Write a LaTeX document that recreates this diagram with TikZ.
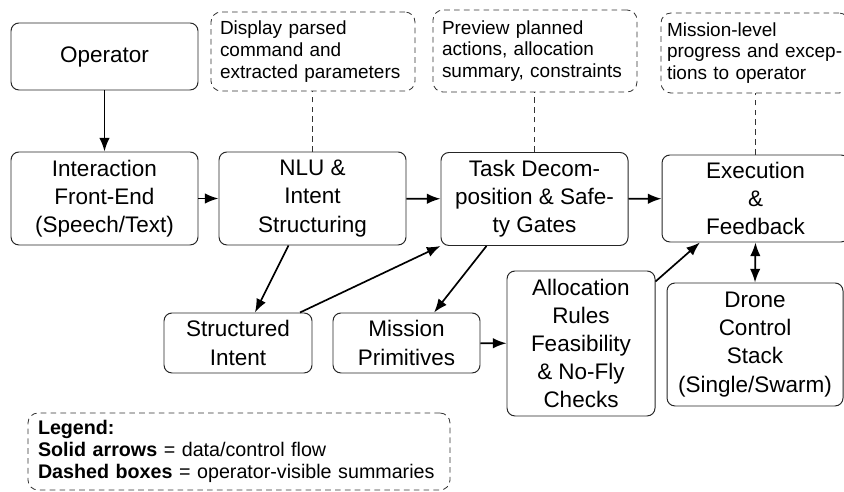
\documentclass[tikz,border=0pt]{standalone}
\usepackage{fontspec}
\setmainfont{Liberation Sans}
\usetikzlibrary{arrows.meta}

\tikzset{
  stage/.style={draw=black!85, line width=0.7pt, rounded corners=0.2cm, align=center,
    inner sep=0pt, minimum width=4.675cm, minimum height=2.325cm,
    font=\fontsize{16}{20}\selectfont},
  note/.style={draw=black!80, dash pattern=on 4pt off 3pt, line width=0.6pt, rounded corners=0.25cm, align=left,
    inner sep=0pt, text width=4.6cm, font=\fontsize{13.5}{15.4}\selectfont},
  flow/.style={line width=1.2pt, -{Latex[length=0.34cm,width=0.26cm]}},
  link/.style={draw=black!80, dash pattern=on 4pt off 3pt, line width=0.6pt}
}

\begin{document}
\begin{tikzpicture}
			%%%%% START %%%%%
			\useasboundingbox (0, 0) rectangle (21.1, 12.3);

			\node[stage, minimum height=1.675cm] (operator) at (2.6125, 10.8875) {Operator};

			\node[stage] (frontend) at (2.6125, 7.3375) {Interaction\\Front-End\\(Speech/Text)};
			\node[stage] (nlu) at (7.8125, 7.3375) {NLU \&\\Intent\\Structuring};
			\node[stage] (task) at (13.3625, 7.325) {Task Decom-\\position \& Safe-\\ty Gates};
			\node[stage, minimum height=2.175cm] (exec) at (18.8875, 7.3375) {Execution\\\&\\Feedback};

			\node[note, minimum width=5.1cm, minimum height=1.975cm, text width=4.65cm] (parsed) at (7.825, 11.0125) {Display parsed\\command and\\extracted parameters};
			\node[note, minimum width=5.1cm, minimum height=2.05cm, text width=4.65cm] (preview) at (13.375, 11.025) {Preview planned\\actions, allocation\\summary, constraints};
			\node[note, minimum width=4.7cm, minimum height=2.0cm, text width=4.4cm] (progress) at (18.875, 10.975) {Mission-level\\progress and excep-\\tions to operator};

			\node[stage, minimum width=3.7cm, minimum height=1.5cm] (intent) at (5.95, 3.725) {Structured\\Intent};
			\node[stage, minimum width=3.675cm, minimum height=1.5cm] (prims) at (10.1625, 3.725) {Mission\\Primitives};
			\node[stage, minimum width=3.7cm, minimum height=3.625cm] (alloc) at (14.525, 3.7125) {Allocation\\Rules\\Feasibility\\\& No-Fly\\Checks};
			\node[stage, minimum width=4.4cm, minimum height=3.075cm] (drone) at (18.875, 3.6875) {Drone\\Control\\Stack\\(Single/Swarm)};

			% data/control flow
			\draw[flow] (operator) -- (frontend);
			\draw[flow] (frontend) -- (nlu);
			\draw[flow] (nlu) -- (task);
			\draw[flow] (task) -- (exec);
			\draw[flow] ([xshift=-0.6cm]nlu.south) -- ([xshift=0.425cm]intent.north);
			\draw[flow] ([xshift=1.55cm]intent.north) -- (task.south west);
			\draw[flow] ([xshift=-1.2cm]task.south) -- ([xshift=0.69cm]prims.north);
			\draw[flow] (prims) -- (alloc);
			\draw[flow] ([yshift=-0.275cm]alloc.north east) -- ([xshift=-1.39cm]exec.south);
			\draw[flow, {Latex[length=0.34cm,width=0.26cm]}-{Latex[length=0.34cm,width=0.26cm]}] (exec.south) -- (drone.north);

			% summaries shown to the operator
			\draw[link] (nlu.north) -- (nlu.north |- parsed.south);
			\draw[link] (task.north) -- (task.north |- preview.south);
			\draw[link] (exec.north) -- (exec.north |- progress.south);

			\node[note, minimum width=10.55cm, minimum height=1.925cm, text width=10.05cm, font=\fontsize{14}{15.4}\selectfont] (legend) at (5.975, 1.0125) {\textbf{Legend:}\\\textbf{Solid arrows} = data/control flow\\\textbf{Dashed boxes} = operator-visible summaries};
			%%%%% END %%%%%
\end{tikzpicture}
\end{document}
